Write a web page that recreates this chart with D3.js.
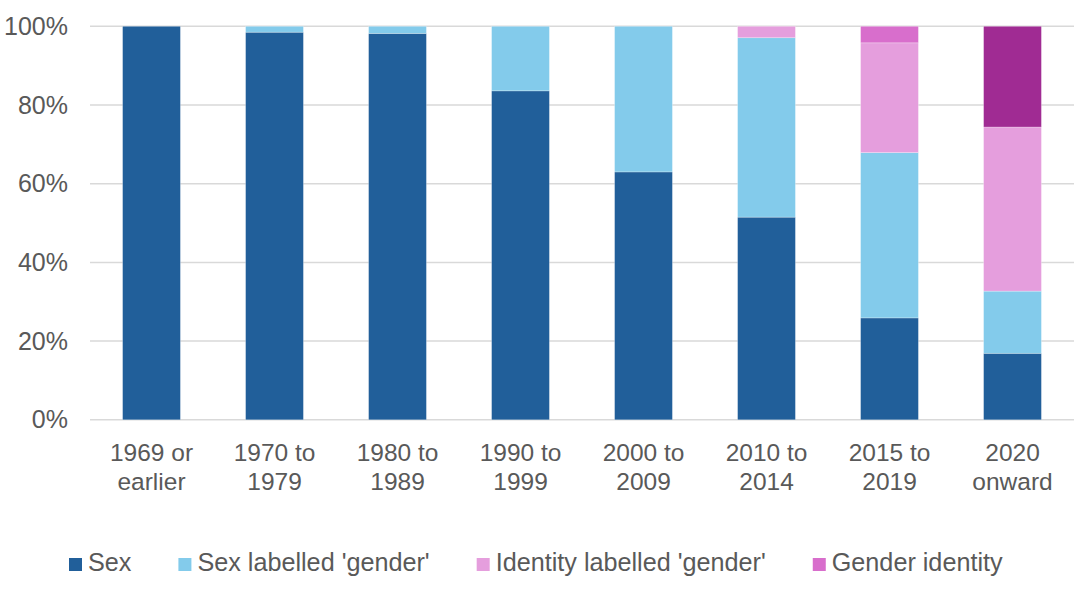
<!DOCTYPE html>
<html>
<head>
<meta charset="utf-8">
<script src="https://cdn.jsdelivr.net/npm/d3@7"></script>
<style>
  html, body { margin: 0; padding: 0; background: #fff; }
  svg text { font-family: "Liberation Sans", Arial, sans-serif; fill: #595959; }
</style>
</head>
<body>
<svg id="chart" width="1074" height="600"></svg>
<script>
"use strict";

// categories (two-line labels) and shares per series, in %
const categories = ["1969 or\nearlier", "1970 to\n1979", "1980 to\n1989", "1990 to\n1999",
                    "2000 to\n2009", "2010 to\n2014", "2015 to\n2019", "2020\nonward"];
const sex            = [100, 98.5, 98.2, 83.6, 63.0, 51.5, 25.9, 16.9];
const sexGender      = [0, 1.5, 1.8, 16.4, 37.0, 45.6, 42.0, 15.8];
const identityGender = [0, 0, 0, 0, 0, 2.9, 27.9, 41.7];
const genderIdentity = [0, 0, 0, 0, 0, 0, 4.2, 25.6];
const seriesNames = ["Sex", "Sex labelled 'gender'", "Identity labelled 'gender'", "Gender identity"];
const yTicks = [0, 20, 40, 60, 80, 100];

const colors = ["#215f9a", "#83cbeb", "#e59edd", "#d86ecc"];
const highlight = "#a02b93"; // last bar's top segment is drawn darker

const svg = d3.select("#chart"),
      M = {top: 26.3, right: 0, bottom: 180.2, left: 90},
      width = +svg.attr("width") - M.left - M.right,
      height = +svg.attr("height") - M.top - M.bottom;

const g = svg.append("g").attr("transform", `translate(${M.left},${M.top})`);

const rows = categories.map((c, i) => ({
  cat: c, s0: sex[i], s1: sexGender[i], s2: identityGender[i], s3: genderIdentity[i]
}));
const stack = d3.stack().keys(["s0", "s1", "s2", "s3"])(rows);

const x = d3.scaleBand().domain(categories).range([0, width]).paddingInner(0.53).paddingOuter(0.265);
const y = d3.scaleLinear().domain([0, 100]).range([height, 0]);

// ---- gridlines
g.append("g").selectAll("line").data(yTicks).enter().append("line")
  .attr("x1", 0).attr("x2", width)
  .attr("y1", d => y(d)).attr("y2", d => y(d))
  .attr("stroke", "#d9d9d9").attr("stroke-width", 1.5);

// ---- bars
stack.forEach((layer, k) => {
  g.append("g").selectAll("rect").data(layer).enter().append("rect")
    .attr("x", d => x(d.data.cat))
    .attr("width", x.bandwidth())
    .attr("y", d => y(d[1]))
    .attr("height", d => Math.max(0, y(d[0]) - y(d[1])))
    .attr("fill", (d, i) => (k === 3 && i === categories.length - 1) ? highlight : colors[k])
    .attr("stroke", "#ffffff").attr("stroke-opacity", 0.35).attr("stroke-width", 0.75);
});

// ---- y axis labels
const yAxis = g.append("g").call(d3.axisLeft(y).tickValues(yTicks).tickFormat(d => d + "%").tickSize(0).tickPadding(22));
yAxis.select(".domain").remove();
yAxis.selectAll("text").style("font-size", "25px").attr("fill", "#595959")
  .style("font-family", "'Liberation Sans', Arial, sans-serif");

// ---- x axis labels (two lines)
const xAxis = g.append("g").attr("transform", `translate(0,${height})`)
  .call(d3.axisBottom(x).tickSize(0).tickFormat(""));
xAxis.select(".domain").remove();
xAxis.selectAll(".tick").each(function(d) {
  const t = d3.select(this).append("text")
    .attr("text-anchor", "middle").attr("fill", "#595959")
    .style("font-size", "24.5px")
    .style("font-family", "'Liberation Sans', Arial, sans-serif");
  d.split("\n").forEach((line, i) => {
    t.append("tspan").attr("x", 0).attr("y", 41 + i * 29).text(line);
  });
});

// ---- legend
const legend = svg.append("g").attr("transform", "translate(69,571)");
let lx = 0;
seriesNames.forEach((name, i) => {
  const item = legend.append("g").attr("transform", `translate(${lx},0)`);
  item.append("rect").attr("x", 0).attr("y", -13).attr("width", 13).attr("height", 13).attr("fill", colors[i]);
  const t = item.append("text").attr("x", 19).attr("y", 0).style("font-size", "25.2px").text(name);
  lx += 19 + t.node().getComputedTextLength() + 47;
});
</script>
</body>
</html>
